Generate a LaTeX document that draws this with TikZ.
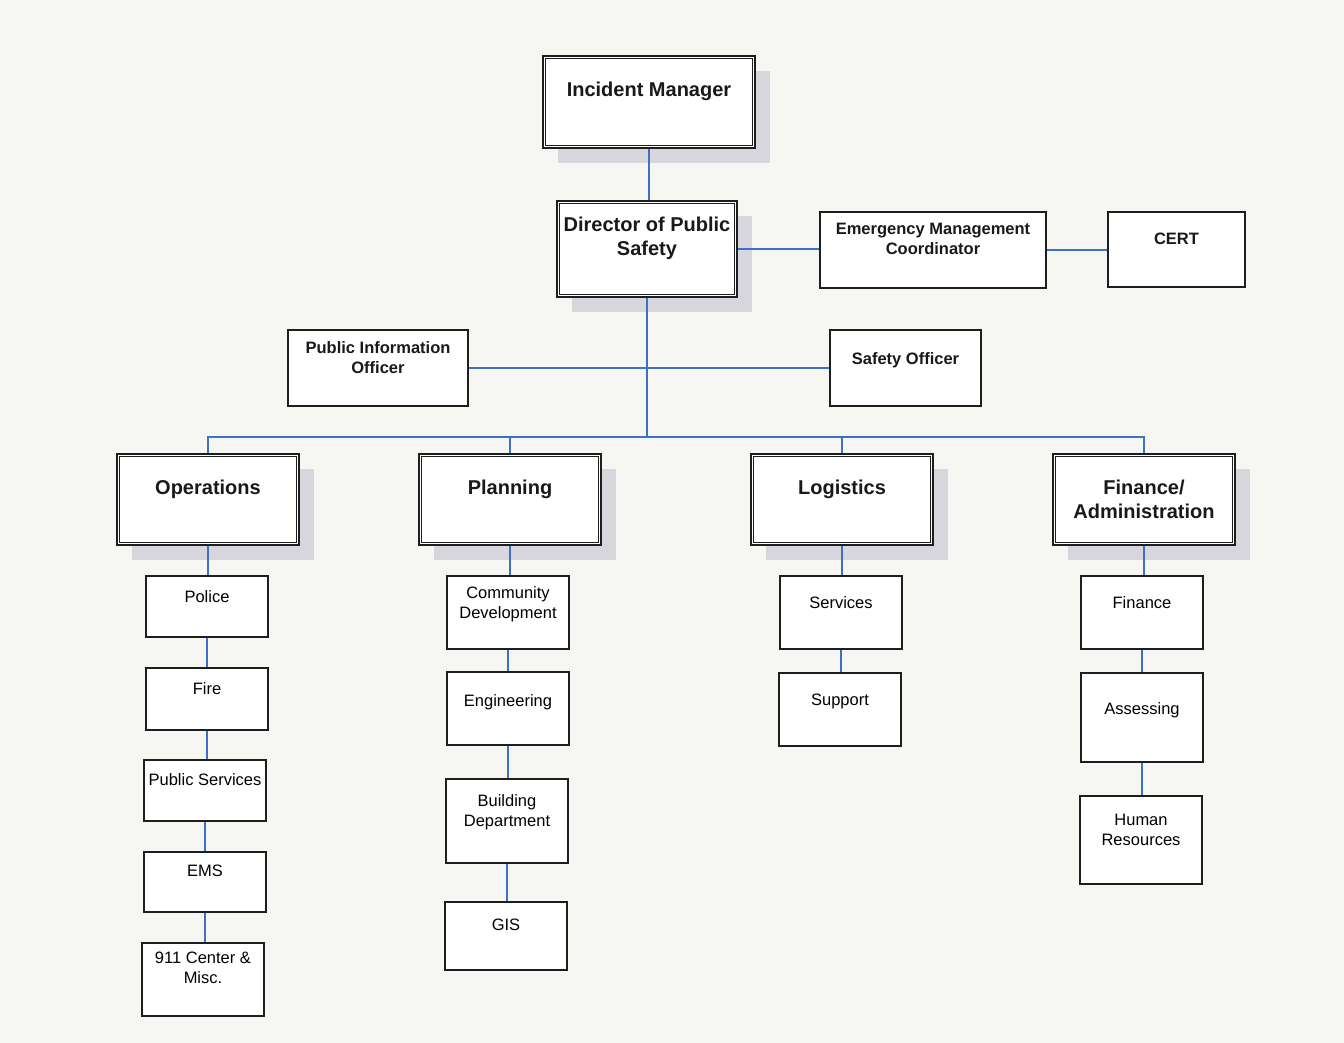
\documentclass[tikz,border=0pt]{standalone}
\usepackage{fontspec}
\setmainfont{Liberation Sans}
\usetikzlibrary{shadows}
\definecolor{linkblue}{RGB}{62,112,200}
\definecolor{shadowgray}{RGB}{214,214,220}
\definecolor{paper}{RGB}{246,246,243}
\definecolor{boxline}{RGB}{30,30,30}
\newcommand{\obox}[8]{%
  \node[#1, minimum width={#5-#3}, minimum height={#6-#4}] (#2) at ({(#3+#5)/2},{(#4+#6)/2}) {};
  \node[#1txt, anchor=north] (#2t) at ({(#3+#5)/2},#7) {#8};
}
\newcommand{\innerframe}[1]{%
  \draw[innerline] ([shift={(4,4)}]#1.north west) rectangle ([shift={(-4,-4)}]#1.south east);
}
\newcommand{\vlink}[2]{\draw[link] (#1.south) -- (#1.south |- #2.north);}
\tikzset{
  big/.style={draw=boxline, line width=2.2pt, fill=white, inner sep=0pt,
    drop shadow={shadow xshift=15pt, shadow yshift=-15pt, fill=shadowgray, opacity=1}},
  innerline/.style={draw=boxline, line width=0.9pt},
  mid/.style={draw=boxline, line width=1.4pt, fill=white, inner sep=0pt},
  small/.style={draw=boxline, line width=1.4pt, fill=white, inner sep=0pt},
  bigtxt/.style={inner sep=0pt, align=center, font=\fontsize{20}{24}\selectfont\bfseries, text=black!90},
  midtxt/.style={inner sep=0pt, align=center, font=\fontsize{16.5}{20}\selectfont\bfseries, text=black!90},
  smalltxt/.style={inner sep=0pt, align=center, font=\fontsize{16.5}{20}\selectfont, text=black},
  link/.style={draw=linkblue, line width=1.9pt}
}
\begin{document}
\begin{tikzpicture}[x=1pt,y=-1pt]
\useasboundingbox (0,0) rectangle (1344,1043);
\fill[paper] (0,0) rectangle (1344,1043);

% top level
\obox{big}{IM}{543}{56}{755}{148}{82}{Incident Manager}
\obox{big}{DPS}{557}{201}{737}{297}{217}{Director of Public\\Safety}
\obox{mid}{EMC}{820}{212}{1046}{288}{223}{Emergency Management\\Coordinator}
\obox{mid}{CERT}{1108}{212}{1245}{287}{233}{CERT}
\obox{mid}{PIO}{288}{330}{468}{406}{341}{Public Information\\Officer}
\obox{mid}{SO}{830}{330}{981}{406}{352}{Safety Officer}

% sections
\obox{big}{OPS}{117}{454}{299}{545}{480}{Operations}
\obox{big}{PLAN}{419}{454}{601}{545}{480}{Planning}
\obox{big}{LOG}{751}{454}{933}{545}{480}{Logistics}
\obox{big}{FIN}{1053}{454}{1235}{545}{480}{Finance/\\Administration}

\innerframe{IM}
\innerframe{DPS}
\innerframe{OPS}
\innerframe{PLAN}
\innerframe{LOG}
\innerframe{FIN}

% operations
\obox{small}{POL}{146}{576}{268}{637}{590}{Police}
\obox{small}{FIRE}{146}{668}{268}{730}{682}{Fire}
\obox{small}{PS}{144}{760}{266}{821}{773}{Public Services}
\obox{small}{EMS}{144}{852}{266}{912}{865}{EMS}
\obox{small}{CTR}{142}{943}{264}{1016}{952}{911 Center \&\\Misc.}

% planning
\obox{small}{CD}{447}{576}{569}{649}{586}{Community\\Development}
\obox{small}{ENG}{447}{672}{569}{745}{694}{Engineering}
\obox{small}{BLD}{446}{779}{568}{863}{794}{Building\\Department}
\obox{small}{GIS}{445}{902}{567}{970}{919}{GIS}

% logistics
\obox{small}{SRV}{780}{576}{902}{649}{596}{Services}
\obox{small}{SUP}{779}{673}{901}{746}{694}{Support}

% finance
\obox{small}{FNC}{1081}{576}{1203}{649}{596}{Finance}
\obox{small}{ASS}{1081}{673}{1203}{762}{702}{Assessing}
\obox{small}{HR}{1080}{796}{1202}{884}{814}{Human\\Resources}

% connectors
\coordinate (bus) at (647,437);
\vlink{IM}{DPS}
\draw[link] (DPS.east) -- (DPS.east -| EMC.west);
\draw[link] (EMC.east) -- (EMC.east -| CERT.west);
\draw[link] (PIO.east) -- (PIO.east -| SO.west);
\draw[link] (DPS.south) -- (DPS.south |- bus);
\draw[link] (bus) -| (OPS.north);
\draw[link] (bus) -| (PLAN.north);
\draw[link] (bus) -| (LOG.north);
\draw[link] (bus) -| (FIN.north);

\vlink{OPS}{POL}
\vlink{POL}{FIRE}
\vlink{FIRE}{PS}
\vlink{PS}{EMS}
\vlink{EMS}{CTR}

\vlink{PLAN}{CD}
\vlink{CD}{ENG}
\vlink{ENG}{BLD}
\vlink{BLD}{GIS}

\vlink{LOG}{SRV}
\vlink{SRV}{SUP}

\vlink{FIN}{FNC}
\vlink{FNC}{ASS}
\vlink{ASS}{HR}
\end{tikzpicture}
\end{document}
